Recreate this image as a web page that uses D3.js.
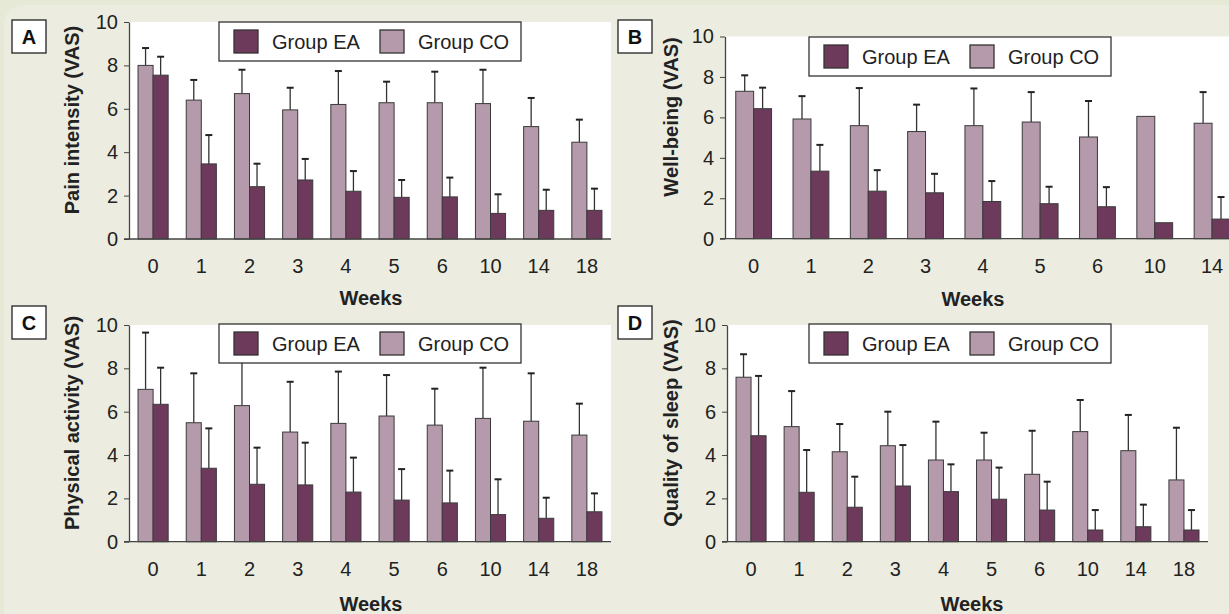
<!DOCTYPE html>
<html>
<head>
<meta charset="utf-8">
<script src="https://cdn.jsdelivr.net/npm/d3@7"></script>
<style>
  html, body { margin: 0; padding: 0; background: #e7eada; }
  svg { display: block; font-family: "Liberation Sans", Arial, sans-serif; }
  .tick text { fill: #222; font-family: "Liberation Sans", Arial, sans-serif; }
  .domain, .tick line { stroke: #444; }
</style>
</head>
<body>
<div id="chart"></div>
<script>
// ---- data ----
const weeks = ['0', '1', '2', '3', '4', '5', '6', '10', '14', '18'];
const seriesNames = ['Group EA', 'Group CO'];

// Pain intensity
const painCO     = [8.0, 6.4, 6.7, 5.95, 6.2, 6.28, 6.28, 6.24, 5.18, 4.46];
const painCOsd   = [0.8, 0.93, 1.1, 1.02, 1.54, 0.97, 1.43, 1.56, 1.32, 1.04];
const painEA     = [7.55, 3.46, 2.41, 2.72, 2.2, 1.92, 1.94, 1.18, 1.32, 1.32];
const painEAsd   = [0.85, 1.33, 1.06, 0.97, 0.93, 0.8, 0.89, 0.88, 0.95, 1.0];

// Well-being (week 18 falls outside the picture)
const wellCO     = [7.29, 5.92, 5.59, 5.3, 5.59, 5.77, 5.03, 6.05, 5.71, null];
const wellCOsd   = [0.79, 1.13, 1.86, 1.33, 1.84, 1.48, 1.78, null, 1.54, null];
const wellEA     = [6.43, 3.34, 2.35, 2.27, 1.84, 1.73, 1.58, 0.79, 0.97, null];
const wellEAsd   = [1.04, 1.3, 1.04, 0.94, 1.01, 0.84, 0.97, null, 1.09, null];

// Physical activity
const physCO     = [7.03, 5.49, 6.28, 5.06, 5.46, 5.8, 5.38, 5.69, 5.56, 4.92];
const physCOsd   = [2.62, 2.28, 2.3, 2.32, 2.39, 1.89, 1.68, 2.34, 2.21, 1.45];
const physEA     = [6.34, 3.39, 2.65, 2.62, 2.29, 1.92, 1.79, 1.25, 1.08, 1.38];
const physEAsd   = [1.69, 1.84, 1.69, 1.95, 1.59, 1.43, 1.49, 1.63, 0.95, 0.85];

// Quality of sleep
const sleepCO    = [7.59, 5.31, 4.15, 4.43, 3.77, 3.77, 3.11, 5.08, 4.2, 2.85];
const sleepCOsd  = [1.06, 1.64, 1.28, 1.57, 1.77, 1.26, 2.01, 1.46, 1.65, 2.41];
const sleepEA    = [4.89, 2.28, 1.59, 2.57, 2.31, 1.96, 1.46, 0.54, 0.69, 0.54];
const sleepEAsd  = [2.76, 1.95, 1.41, 1.89, 1.26, 1.46, 1.31, 0.92, 1.02, 0.92];

const yTicks = [0, 2, 4, 6, 8, 10];

const colors = { co: '#b49aaa', ea: '#6d3a5c' };

// ---- layout of the four panels ----
const panels = [
  { letter: 'A', title: 'Pain intensity (VAS)', co: painCO, coSd: painCOsd, ea: painEA, eaSd: painEAsd,
    x0: 129, x1: 611, yTop: 22, yBot: 239, box: [12, 20], titleX: 79, titleY: 120,
    legend: [219, 22], weeksX: 371, weeksY: 305 },
  { letter: 'B', title: 'Well-being (VAS)', co: wellCO, coSd: wellCOsd, ea: wellEA, eaSd: wellEAsd,
    x0: 725, x1: 1298, yTop: 36.5, yBot: 238.7, box: [618, 20], titleX: 678, titleY: 117,
    legend: [809, 37], weeksX: 973, weeksY: 306 },
  { letter: 'C', title: 'Physical activity (VAS)', co: physCO, coSd: physCOsd, ea: physEA, eaSd: physEAsd,
    x0: 129, x1: 611, yTop: 325, yBot: 541.7, box: [12, 306], titleX: 79, titleY: 423,
    legend: [219, 324], weeksX: 371, weeksY: 611 },
  { letter: 'D', title: 'Quality of sleep (VAS)', co: sleepCO, coSd: sleepCOsd, ea: sleepEA, eaSd: sleepEAsd,
    x0: 727, x1: 1208, yTop: 325, yBot: 541.7, box: [618, 306], titleX: 678, titleY: 423,
    legend: [809, 324], weeksX: 972, weeksY: 611 }
];

const W = 1229, H = 614;

const svg = d3.select('#chart').append('svg')
  .attr('width', W)
  .attr('height', H);

// background with the soft rounded frame
svg.append('rect').attr('width', W).attr('height', H).attr('fill', '#e6e9d6');
svg.append('rect')
  .attr('x', 4).attr('y', 5).attr('width', W + 30).attr('height', H + 30)
  .attr('rx', 20).attr('fill', '#ecede0');

panels.forEach(p => drawPanel(p));

function drawPanel(p) {
  const g = svg.append('g');

  const x = d3.scaleBand()
    .domain(weeks)
    .range([p.x0, p.x1])
    .paddingInner(0.375)
    .paddingOuter(0.1875);

  const xs = d3.scaleBand()
    .domain(['co', 'ea'])
    .range([0, x.bandwidth()]);

  const y = d3.scaleLinear()
    .domain([0, 10])
    .range([p.yBot, p.yTop]);

  // plot area
  g.append('rect')
    .attr('x', p.x0).attr('y', p.yTop)
    .attr('width', p.x1 - p.x0).attr('height', p.yBot - p.yTop)
    .attr('fill', '#fff');

  const rows = weeks.map((w, i) => ({
    week: w,
    vals: [
      { key: 'co', v: p.co[i], sd: p.coSd[i] },
      { key: 'ea', v: p.ea[i], sd: p.eaSd[i] }
    ].filter(d => d.v != null)
  }));

  const groups = g.selectAll('.grp')
    .data(rows)
    .enter()
    .append('g')
    .attr('class', 'grp')
    .attr('transform', d => `translate(${x(d.week)},0)`);

  // error bars (upper only)
  const err = groups.selectAll('.err')
    .data(d => d.vals.filter(v => v.sd != null))
    .enter()
    .append('g')
    .attr('class', 'err');

  err.append('line')
    .attr('x1', d => xs(d.key) + xs.bandwidth() / 2)
    .attr('x2', d => xs(d.key) + xs.bandwidth() / 2)
    .attr('y1', d => y(d.v))
    .attr('y2', d => y(d.v + d.sd))
    .attr('stroke', '#333').attr('stroke-width', 1.3);

  err.append('line')
    .attr('x1', d => xs(d.key) + xs.bandwidth() / 2 - 3.5)
    .attr('x2', d => xs(d.key) + xs.bandwidth() / 2 + 3.5)
    .attr('y1', d => y(d.v + d.sd))
    .attr('y2', d => y(d.v + d.sd))
    .attr('stroke', '#222').attr('stroke-width', 2);

  groups.selectAll('.bar')
    .data(d => d.vals)
    .enter()
    .append('rect')
    .attr('class', 'bar')
    .attr('x', d => xs(d.key))
    .attr('y', d => y(d.v))
    .attr('width', xs.bandwidth())
    .attr('height', d => y(0) - y(d.v))
    .attr('fill', d => colors[d.key])
    .attr('stroke', '#3a3a3a')
    .attr('stroke-width', 1);

  // axes
  const yAxis = g.append('g')
    .attr('transform', `translate(${p.x0},0)`)
    .call(d3.axisLeft(y).tickValues(yTicks).tickSizeInner(5).tickSizeOuter(0).tickPadding(6));
  yAxis.selectAll('text').style('font-size', '20px');
  yAxis.select('.domain').attr('stroke-width', 1.3);

  const xAxis = g.append('g')
    .attr('transform', `translate(0,${p.yBot})`)
    .call(d3.axisBottom(x).tickSize(0).tickPadding(20));
  xAxis.selectAll('text').style('font-size', '20px');
  // labels that fall past the page edge are not in the picture
  xAxis.selectAll('.tick').filter(d => x(d) + x.bandwidth() / 2 > W - 12).remove();
  xAxis.select('.domain').attr('stroke-width', 1.3)
    .attr('d', `M${p.x0 - 5},0H${p.x1}`);

  // axis titles
  g.append('text')
    .attr('transform', `translate(${p.titleX},${p.titleY}) rotate(-90)`)
    .attr('text-anchor', 'middle')
    .style('font-size', '20px').style('font-weight', 'bold')
    .attr('fill', '#222')
    .text(p.title);

  g.append('text')
    .attr('x', p.weeksX).attr('y', p.weeksY)
    .attr('text-anchor', 'middle')
    .style('font-size', '20px').style('font-weight', 'bold')
    .attr('fill', '#222')
    .text('Weeks');

  // panel letter
  g.append('rect')
    .attr('x', p.box[0]).attr('y', p.box[1])
    .attr('width', 34).attr('height', 33)
    .attr('fill', '#fff').attr('stroke', '#222').attr('stroke-width', 1.3);
  g.append('text')
    .attr('x', p.box[0] + 17).attr('y', p.box[1] + 24)
    .attr('text-anchor', 'middle')
    .style('font-size', '20px').style('font-weight', 'bold')
    .attr('fill', '#111')
    .text(p.letter);

  // legend
  const lg = g.append('g').attr('transform', `translate(${p.legend[0]},${p.legend[1]})`);
  lg.append('rect')
    .attr('width', 302).attr('height', 39)
    .attr('fill', '#fff').attr('stroke', '#333').attr('stroke-width', 1.3);
  const items = lg.selectAll('.item')
    .data(seriesNames)
    .enter()
    .append('g')
    .attr('class', 'item')
    .attr('transform', (d, i) => `translate(${i === 0 ? 15 : 161},8)`);
  items.append('rect')
    .attr('width', 24).attr('height', 23)
    .attr('fill', (d, i) => i === 0 ? colors.ea : colors.co)
    .attr('stroke', '#333').attr('stroke-width', 1.3);
  items.append('text')
    .attr('x', 38).attr('y', 19)
    .style('font-size', '20px')
    .attr('fill', '#222')
    .text(d => d);
}
</script>
</body>
</html>
